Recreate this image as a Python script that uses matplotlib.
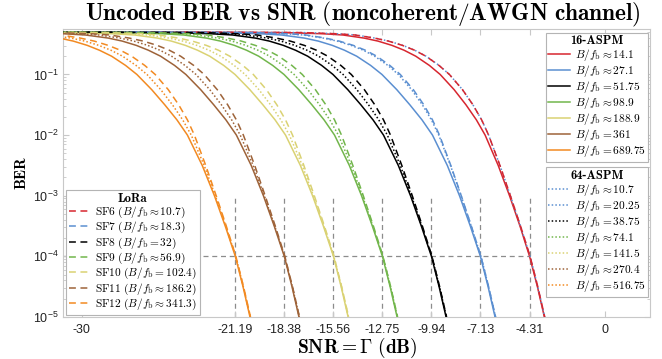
import matplotlib
matplotlib.use('Agg')
import matplotlib.pyplot as plt

plt.rcParams['font.family'] = ['Liberation Sans', 'DejaVu Sans']
plt.rcParams['mathtext.fontset'] = 'custom'
plt.rcParams['mathtext.rm'] = 'Liberation Sans'
plt.rcParams['mathtext.it'] = 'Liberation Sans:italic'
plt.rcParams['mathtext.bf'] = 'Liberation Sans:bold'

# ---------------- data ----------------
BER_LEVELS = [0.499, 0.490, 0.468, 0.447, 0.398, 0.355, 0.302, 0.251, 0.2, 0.141,
              0.1, 0.0562, 0.0316, 0.0178, 0.01, 3.16e-3, 1e-3, 3.16e-4, 1e-4,
              3.16e-5, 1e-5]

THRESH = [-21.19, -18.38, -15.56, -12.75, -9.94, -7.13, -4.31]
XTICKS = [-30, -21.19, -18.38, -15.56, -12.75, -9.94, -7.13, -4.31, 0]
XTICK_LABELS = ['-30', '-21.19', '-18.38', '-15.56', '-12.75', '-9.94',
                '-7.13', '-4.31', '0']
YTICKS = [1e-5, 1e-4, 1e-3, 1e-2, 1e-1]
YTICK_LABELS = [r'$10^{-5}$', r'$10^{-4}$', r'$10^{-3}$', r'$10^{-2}$', r'$10^{-1}$']
BER_TARGET = 1e-4
VLINE_SPAN = [1e-5, 1e-3]

COLORS = ['#D7262F', '#5B8FD1', '#000000', '#72B64C', '#DAD273', '#9E6339', '#F28A22']

LORA_LABELS = [r'$\mathrm{SF6}\ (B/f_\mathrm{b} \approx 10.7)$',
               r'$\mathrm{SF7}\ (B/f_\mathrm{b} \approx 18.3)$',
               r'$\mathrm{SF8}\ (B/f_\mathrm{b} = 32)$',
               r'$\mathrm{SF9}\ (B/f_\mathrm{b} \approx 56.9)$',
               r'$\mathrm{SF10}\ (B/f_\mathrm{b} = 102.4)$',
               r'$\mathrm{SF11}\ (B/f_\mathrm{b} \approx 186.2)$',
               r'$\mathrm{SF12}\ (B/f_\mathrm{b} \approx 341.3)$']
LORA_SNR = [
    [-24.31, -17.31, -15.31, -14.31, -13.21, -12.41, -11.61, -10.91, -10.26, -9.51, -8.91, -8.16, -7.56, -7.06, -6.66, -6.01, -5.41, -4.83, -4.28, -3.84, -3.44],
    [-27.13, -20.13, -18.13, -17.13, -16.03, -15.23, -14.43, -13.73, -13.08, -12.33, -11.73, -10.98, -10.38, -9.88, -9.48, -8.83, -8.23, -7.65, -7.10, -6.66, -6.26],
    [-29.94, -22.94, -20.94, -19.94, -18.84, -18.04, -17.24, -16.54, -15.89, -15.14, -14.54, -13.79, -13.19, -12.69, -12.29, -11.64, -11.04, -10.46, -9.91, -9.47, -9.07],
    [-32.75, -25.75, -23.75, -22.75, -21.65, -20.85, -20.05, -19.35, -18.70, -17.95, -17.35, -16.60, -16.00, -15.50, -15.10, -14.45, -13.85, -13.27, -12.72, -12.28, -11.88],
    [-35.56, -28.56, -26.56, -25.56, -24.46, -23.66, -22.86, -22.16, -21.51, -20.76, -20.16, -19.41, -18.81, -18.31, -17.91, -17.26, -16.66, -16.08, -15.53, -15.09, -14.69],
    [-38.38, -31.38, -29.38, -28.38, -27.28, -26.48, -25.68, -24.98, -24.33, -23.58, -22.98, -22.23, -21.63, -21.13, -20.73, -20.08, -19.48, -18.90, -18.35, -17.91, -17.51],
    [-41.19, -34.19, -32.19, -31.19, -30.09, -29.29, -28.49, -27.79, -27.14, -26.39, -25.79, -25.04, -24.44, -23.94, -23.54, -22.89, -22.29, -21.71, -21.16, -20.72, -20.32],
]

ASPM16_LABELS = [r'$B/f_\mathrm{b} \approx 14.1$', r'$B/f_\mathrm{b} \approx 27.1$',
                 r'$B/f_\mathrm{b} = 51.75$', r'$B/f_\mathrm{b} \approx 98.9$',
                 r'$B/f_\mathrm{b} \approx 188.9$', r'$B/f_\mathrm{b} = 361$',
                 r'$B/f_\mathrm{b} = 689.75$']
ASPM16_SNR = [
    [-26.31, -18.31, -16.11, -15.01, -13.81, -13.01, -12.21, -11.51, -10.84, -10.06, -9.44, -8.64, -7.96, -7.36, -6.86, -6.11, -5.46, -4.86, -4.31, -3.86, -3.46],
    [-31.13, -22.13, -19.73, -18.53, -17.23, -16.43, -15.63, -14.93, -14.23, -13.43, -12.78, -11.93, -11.18, -10.48, -9.88, -9.03, -8.33, -7.71, -7.13, -6.69, -6.29],
    [-33.94, -24.94, -22.54, -21.34, -20.04, -19.24, -18.44, -17.74, -17.04, -16.24, -15.59, -14.74, -13.99, -13.29, -12.69, -11.84, -11.14, -10.52, -9.94, -9.50, -9.10],
    [-36.75, -27.75, -25.35, -24.15, -22.85, -22.05, -21.25, -20.55, -19.85, -19.05, -18.40, -17.55, -16.80, -16.10, -15.50, -14.65, -13.95, -13.33, -12.75, -12.31, -11.91],
    [-39.56, -30.56, -28.16, -26.96, -25.66, -24.86, -24.06, -23.36, -22.66, -21.86, -21.21, -20.36, -19.61, -18.91, -18.31, -17.46, -16.76, -16.14, -15.56, -15.12, -14.72],
    [-42.38, -33.38, -30.98, -29.78, -28.48, -27.68, -26.88, -26.18, -25.48, -24.68, -24.03, -23.18, -22.43, -21.73, -21.13, -20.28, -19.58, -18.96, -18.38, -17.94, -17.54],
    [-45.19, -36.19, -33.79, -32.59, -31.29, -30.49, -29.69, -28.99, -28.29, -27.49, -26.84, -25.99, -25.24, -24.54, -23.94, -23.09, -22.39, -21.77, -21.19, -20.75, -20.35],
]

ASPM64_LABELS = [r'$B/f_\mathrm{b} \approx 10.7$', r'$B/f_\mathrm{b} = 20.25$',
                 r'$B/f_\mathrm{b} = 38.75$', r'$B/f_\mathrm{b} \approx 74.1$',
                 r'$B/f_\mathrm{b} = 141.5$', r'$B/f_\mathrm{b} \approx 270.4$',
                 r'$B/f_\mathrm{b} = 516.75$']
ASPM64_COLORS = ['#5B8FD1', '#5B8FD1', '#000000', '#72B64C', '#DAD273', '#9E6339', '#F28A22']
ASPM64_SNR = [
    [-24.21, -17.21, -15.26, -14.26, -13.18, -12.39, -11.59, -10.90, -10.25, -9.50, -8.91, -8.16, -7.56, -7.06, -6.66, -6.01, -5.41, -4.83, -4.28, -3.84, -3.44],
    [-27.53, -20.33, -18.29, -17.27, -16.15, -15.35, -14.55, -13.85, -13.20, -12.44, -11.84, -11.08, -10.46, -9.94, -9.52, -8.85, -8.24, -7.66, -7.10, -6.66, -6.26],
    [-31.74, -23.84, -21.66, -20.57, -19.38, -18.58, -17.78, -17.08, -16.41, -15.64, -15.01, -14.22, -13.55, -12.96, -12.47, -11.73, -11.09, -10.49, -9.92, -9.48, -9.08],
    [-34.55, -26.65, -24.47, -23.38, -22.19, -21.39, -20.59, -19.89, -19.22, -18.45, -17.82, -17.03, -16.36, -15.77, -15.28, -14.54, -13.90, -13.30, -12.73, -12.29, -11.89],
    [-37.36, -29.46, -27.28, -26.19, -25.00, -24.20, -23.40, -22.70, -22.03, -21.26, -20.63, -19.84, -19.17, -18.58, -18.09, -17.35, -16.71, -16.11, -15.54, -15.10, -14.70],
    [-40.18, -32.28, -30.10, -29.01, -27.82, -27.02, -26.22, -25.52, -24.85, -24.08, -23.45, -22.66, -21.99, -21.40, -20.91, -20.17, -19.53, -18.93, -18.36, -17.92, -17.52],
    [-42.99, -35.09, -32.91, -31.82, -30.63, -29.83, -29.03, -28.33, -27.66, -26.89, -26.26, -25.47, -24.80, -24.21, -23.72, -22.98, -22.34, -21.74, -21.17, -20.73, -20.33],
]

# ---------------- figure ----------------
fig = plt.figure(figsize=(6.62, 3.59), dpi=100)
ax = fig.add_axes([0.0959, 0.117, 0.886, 0.802])
ax.set_yscale('log')
XLIM = (-31.05, 2.6)
ax.set_xlim(*XLIM)
ax.set_ylim(1e-5, 0.56)

GRAY = '#8c8c8c'
ax.plot([XLIM[0], THRESH[-1]], [BER_TARGET, BER_TARGET], color=GRAY, lw=0.9,
        ls=(0, (4, 3)), zorder=1)
for t in THRESH:
    ax.plot([t, t], VLINE_SPAN, color=GRAY, lw=0.9, ls=(0, (4, 3)), zorder=1)

LW = 1.1
h16, h64, hlo = [], [], []
for snr, c in zip(ASPM16_SNR, COLORS):
    h16 += ax.plot(snr, BER_LEVELS, color=c, lw=LW, ls='-', zorder=3)
for snr, c in zip(ASPM64_SNR, ASPM64_COLORS):
    h64 += ax.plot(snr, BER_LEVELS, color=c, lw=LW, ls=(0, (1, 1.4)), zorder=4)
for snr, c in zip(LORA_SNR, COLORS):
    hlo += ax.plot(snr, BER_LEVELS, color=c, lw=LW, ls=(0, (4.5, 3)), zorder=5)

for s in ax.spines.values():
    s.set_color('#c8c8c8')
    s.set_linewidth(0.8)
ax.set_xticks(XTICKS)
ax.set_xticklabels(XTICK_LABELS)
ax.set_yticks(YTICKS)
ax.set_yticklabels(YTICK_LABELS)
ax.tick_params(axis='both', which='both', direction='in', top=True, right=True,
               color='#c8c8c8', labelsize=9, labelcolor='#222222')
ax.tick_params(which='major', length=4)
ax.tick_params(which='minor', length=2)
ax.tick_params(axis='x', pad=5)

ax.set_title(r'$\mathbf{Uncoded\ BER\ vs\ SNR\ (noncoherent/AWGN\ channel)}$',
             fontsize=16.8, math_fontfamily='cm', pad=6, x=0.51)
ax.set_xlabel(r'$\mathbf{SNR = \Gamma\ (dB)}$', fontsize=14, math_fontfamily='cm',
              labelpad=0)
ax.set_ylabel('BER', fontfamily='cmb10', fontsize=11, labelpad=3)

LEG_KW = dict(prop={'size': 8.2, 'math_fontfamily': 'cm'}, frameon=True, fancybox=False,
              framealpha=1, edgecolor='#b4b4b4', borderaxespad=0, handlelength=1.9,
              handletextpad=0.4, labelspacing=0.0, borderpad=0.25)
TITLE_FP = {'family': 'cmb10', 'size': 9}

leg16 = ax.legend(h16, ASPM16_LABELS, loc='upper right', bbox_to_anchor=(0.997, 0.988),
                  title='16-ASPM', title_fontproperties=TITLE_FP, **LEG_KW)
leg16.get_frame().set_linewidth(0.8)
ax.add_artist(leg16)
leg64 = ax.legend(h64, ASPM64_LABELS, loc='upper right', bbox_to_anchor=(0.997, 0.52),
                  title='64-ASPM', title_fontproperties=TITLE_FP, **LEG_KW)
leg64.get_frame().set_linewidth(0.8)
ax.add_artist(leg64)
leglo = ax.legend(hlo, LORA_LABELS, loc='lower left', bbox_to_anchor=(0.004, 0.007),
                  title='LoRa', title_fontproperties=TITLE_FP, **LEG_KW)
leglo.get_frame().set_linewidth(0.8)

fig.savefig('out.png', dpi=100)
